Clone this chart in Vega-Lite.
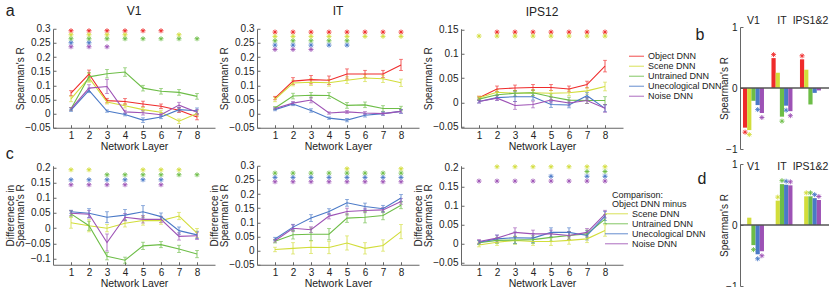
{
"$schema": "https://vega.github.io/schema/vega-lite/v6.json",
"padding": {"left": 5, "top": 2, "right": 2, "bottom": 0},
"title": {"text": "a", "anchor": "start", "frame": "bounds", "fontSize": 16, "offset": -14},
"config": {
  "font": "Liberation Sans",
  "view": {"stroke": null},
  "axis": {"grid": false, "domainColor": "#666", "tickColor": "#666", "labelColor": "#222", "titleColor": "#222", "labelFontSize": 10, "titleFontSize": 10, "titleFontWeight": "normal", "tickSize": -3, "labelPadding": 6, "domainWidth": 1, "titleLineHeight": 10},
  "axisX": {"labelOverlap": false, "labelSeparation": 0, "labelBound": false, "labelFlush": false},
  "title": {"fontWeight": "normal", "fontSize": 12, "color": "#222"},
  "legend": {"labelColor": "#222", "titleColor": "#222"}
},
"datasets": {
  "a": [
    {"region":"V1","series":"Object DNN","layer":1,"r":0.072,"err":0.009},{"region":"V1","series":"Object DNN","layer":2,"r":0.14,"err":0.014},{"region":"V1","series":"Object DNN","layer":3,"r":0.046,"err":0.008},{"region":"V1","series":"Object DNN","layer":4,"r":0.043,"err":0.01},{"region":"V1","series":"Object DNN","layer":5,"r":0.034,"err":0.01},{"region":"V1","series":"Object DNN","layer":6,"r":0.026,"err":0.008},{"region":"V1","series":"Object DNN","layer":7,"r":0.012,"err":0.008},{"region":"V1","series":"Object DNN","layer":8,"r":-0.012,"err":0.01},
    {"region":"V1","series":"Scene DNN","layer":1,"r":0.052,"err":0.01},{"region":"V1","series":"Scene DNN","layer":2,"r":0.126,"err":0.015},{"region":"V1","series":"Scene DNN","layer":3,"r":0.041,"err":0.007},{"region":"V1","series":"Scene DNN","layer":4,"r":0.028,"err":0.008},{"region":"V1","series":"Scene DNN","layer":5,"r":0.014,"err":0.008},{"region":"V1","series":"Scene DNN","layer":6,"r":0.005,"err":0.007},{"region":"V1","series":"Scene DNN","layer":7,"r":-0.027,"err":0.008},{"region":"V1","series":"Scene DNN","layer":8,"r":0.0,"err":0.01},
    {"region":"V1","series":"Untrained DNN","layer":1,"r":0.017,"err":0.005},{"region":"V1","series":"Untrained DNN","layer":2,"r":0.13,"err":0.015},{"region":"V1","series":"Untrained DNN","layer":3,"r":0.141,"err":0.015},{"region":"V1","series":"Untrained DNN","layer":4,"r":0.147,"err":0.015},{"region":"V1","series":"Untrained DNN","layer":5,"r":0.09,"err":0.01},{"region":"V1","series":"Untrained DNN","layer":6,"r":0.079,"err":0.01},{"region":"V1","series":"Untrained DNN","layer":7,"r":0.075,"err":0.01},{"region":"V1","series":"Untrained DNN","layer":8,"r":0.061,"err":0.01},
    {"region":"V1","series":"Unecological DNN","layer":1,"r":0.012,"err":0.004},{"region":"V1","series":"Unecological DNN","layer":2,"r":0.082,"err":0.008},{"region":"V1","series":"Unecological DNN","layer":3,"r":0.009,"err":0.004},{"region":"V1","series":"Unecological DNN","layer":4,"r":-0.003,"err":0.005},{"region":"V1","series":"Unecological DNN","layer":5,"r":-0.023,"err":0.008},{"region":"V1","series":"Unecological DNN","layer":6,"r":-0.012,"err":0.006},{"region":"V1","series":"Unecological DNN","layer":7,"r":0.014,"err":0.008},{"region":"V1","series":"Unecological DNN","layer":8,"r":0.01,"err":0.01},
    {"region":"V1","series":"Noise DNN","layer":1,"r":0.017,"err":0.005},{"region":"V1","series":"Noise DNN","layer":2,"r":0.09,"err":0.012},{"region":"V1","series":"Noise DNN","layer":3,"r":0.096,"err":0.025},{"region":"V1","series":"Noise DNN","layer":4,"r":0.006,"err":0.006},{"region":"V1","series":"Noise DNN","layer":5,"r":0.003,"err":0.008},{"region":"V1","series":"Noise DNN","layer":6,"r":-0.004,"err":0.006},{"region":"V1","series":"Noise DNN","layer":7,"r":0.03,"err":0.01},{"region":"V1","series":"Noise DNN","layer":8,"r":0.005,"err":0.01},
    {"region":"IT","series":"Object DNN","layer":1,"r":0.055,"err":0.006},{"region":"IT","series":"Object DNN","layer":2,"r":0.115,"err":0.012},{"region":"IT","series":"Object DNN","layer":3,"r":0.12,"err":0.015},{"region":"IT","series":"Object DNN","layer":4,"r":0.118,"err":0.015},{"region":"IT","series":"Object DNN","layer":5,"r":0.14,"err":0.018},{"region":"IT","series":"Object DNN","layer":6,"r":0.14,"err":0.013},{"region":"IT","series":"Object DNN","layer":7,"r":0.14,"err":0.013},{"region":"IT","series":"Object DNN","layer":8,"r":0.172,"err":0.02},
    {"region":"IT","series":"Scene DNN","layer":1,"r":0.05,"err":0.008},{"region":"IT","series":"Scene DNN","layer":2,"r":0.108,"err":0.01},{"region":"IT","series":"Scene DNN","layer":3,"r":0.111,"err":0.012},{"region":"IT","series":"Scene DNN","layer":4,"r":0.109,"err":0.012},{"region":"IT","series":"Scene DNN","layer":5,"r":0.118,"err":0.012},{"region":"IT","series":"Scene DNN","layer":6,"r":0.126,"err":0.013},{"region":"IT","series":"Scene DNN","layer":7,"r":0.123,"err":0.013},{"region":"IT","series":"Scene DNN","layer":8,"r":0.109,"err":0.013},
    {"region":"IT","series":"Untrained DNN","layer":1,"r":0.02,"err":0.005},{"region":"IT","series":"Untrained DNN","layer":2,"r":0.062,"err":0.01},{"region":"IT","series":"Untrained DNN","layer":3,"r":0.065,"err":0.01},{"region":"IT","series":"Untrained DNN","layer":4,"r":0.064,"err":0.01},{"region":"IT","series":"Untrained DNN","layer":5,"r":0.029,"err":0.01},{"region":"IT","series":"Untrained DNN","layer":6,"r":0.031,"err":0.01},{"region":"IT","series":"Untrained DNN","layer":7,"r":0.018,"err":0.01},{"region":"IT","series":"Untrained DNN","layer":8,"r":0.018,"err":0.008},
    {"region":"IT","series":"Unecological DNN","layer":1,"r":0.014,"err":0.004},{"region":"IT","series":"Unecological DNN","layer":2,"r":0.034,"err":0.006},{"region":"IT","series":"Unecological DNN","layer":3,"r":0.011,"err":0.006},{"region":"IT","series":"Unecological DNN","layer":4,"r":-0.016,"err":0.004},{"region":"IT","series":"Unecological DNN","layer":5,"r":-0.023,"err":0.006},{"region":"IT","series":"Unecological DNN","layer":6,"r":-0.006,"err":0.006},{"region":"IT","series":"Unecological DNN","layer":7,"r":0.0,"err":0.006},{"region":"IT","series":"Unecological DNN","layer":8,"r":0.008,"err":0.007},
    {"region":"IT","series":"Noise DNN","layer":1,"r":0.018,"err":0.004},{"region":"IT","series":"Noise DNN","layer":2,"r":0.037,"err":0.006},{"region":"IT","series":"Noise DNN","layer":3,"r":0.048,"err":0.01},{"region":"IT","series":"Noise DNN","layer":4,"r":0.002,"err":0.004},{"region":"IT","series":"Noise DNN","layer":5,"r":0.006,"err":0.005},{"region":"IT","series":"Noise DNN","layer":6,"r":0.002,"err":0.005},{"region":"IT","series":"Noise DNN","layer":7,"r":0.0,"err":0.005},{"region":"IT","series":"Noise DNN","layer":8,"r":0.008,"err":0.006},
    {"region":"IPS12","series":"Object DNN","layer":1,"r":0.01,"err":0.003},{"region":"IPS12","series":"Object DNN","layer":2,"r":0.028,"err":0.006},{"region":"IPS12","series":"Object DNN","layer":3,"r":0.03,"err":0.006},{"region":"IPS12","series":"Object DNN","layer":4,"r":0.031,"err":0.006},{"region":"IPS12","series":"Object DNN","layer":5,"r":0.031,"err":0.006},{"region":"IPS12","series":"Object DNN","layer":6,"r":0.028,"err":0.006},{"region":"IPS12","series":"Object DNN","layer":7,"r":0.037,"err":0.007},{"region":"IPS12","series":"Object DNN","layer":8,"r":0.075,"err":0.012},
    {"region":"IPS12","series":"Scene DNN","layer":1,"r":0.01,"err":0.003},{"region":"IPS12","series":"Scene DNN","layer":2,"r":0.021,"err":0.006},{"region":"IPS12","series":"Scene DNN","layer":3,"r":0.019,"err":0.006},{"region":"IPS12","series":"Scene DNN","layer":4,"r":0.02,"err":0.006},{"region":"IPS12","series":"Scene DNN","layer":5,"r":0.019,"err":0.006},{"region":"IPS12","series":"Scene DNN","layer":6,"r":0.02,"err":0.006},{"region":"IPS12","series":"Scene DNN","layer":7,"r":0.024,"err":0.007},{"region":"IPS12","series":"Scene DNN","layer":8,"r":0.033,"err":0.009},
    {"region":"IPS12","series":"Untrained DNN","layer":1,"r":0.007,"err":0.003},{"region":"IPS12","series":"Untrained DNN","layer":2,"r":0.016,"err":0.006},{"region":"IPS12","series":"Untrained DNN","layer":3,"r":0.019,"err":0.006},{"region":"IPS12","series":"Untrained DNN","layer":4,"r":0.02,"err":0.006},{"region":"IPS12","series":"Untrained DNN","layer":5,"r":0.012,"err":0.006},{"region":"IPS12","series":"Untrained DNN","layer":6,"r":0.005,"err":0.006},{"region":"IPS12","series":"Untrained DNN","layer":7,"r":0.004,"err":0.006},{"region":"IPS12","series":"Untrained DNN","layer":8,"r":0.004,"err":0.008},
    {"region":"IPS12","series":"Unecological DNN","layer":1,"r":0.002,"err":0.003},{"region":"IPS12","series":"Unecological DNN","layer":2,"r":0.01,"err":0.005},{"region":"IPS12","series":"Unecological DNN","layer":3,"r":0.012,"err":0.01},{"region":"IPS12","series":"Unecological DNN","layer":4,"r":0.012,"err":0.007},{"region":"IPS12","series":"Unecological DNN","layer":5,"r":-0.004,"err":0.006},{"region":"IPS12","series":"Unecological DNN","layer":6,"r":-0.005,"err":0.006},{"region":"IPS12","series":"Unecological DNN","layer":7,"r":0.014,"err":0.007},{"region":"IPS12","series":"Unecological DNN","layer":8,"r":-0.012,"err":0.007},
    {"region":"IPS12","series":"Noise DNN","layer":1,"r":0.002,"err":0.003},{"region":"IPS12","series":"Noise DNN","layer":2,"r":0.009,"err":0.005},{"region":"IPS12","series":"Noise DNN","layer":3,"r":-0.006,"err":0.008},{"region":"IPS12","series":"Noise DNN","layer":4,"r":-0.004,"err":0.007},{"region":"IPS12","series":"Noise DNN","layer":5,"r":0.005,"err":0.006},{"region":"IPS12","series":"Noise DNN","layer":6,"r":-0.001,"err":0.006},{"region":"IPS12","series":"Noise DNN","layer":7,"r":0.004,"err":0.006},{"region":"IPS12","series":"Noise DNN","layer":8,"r":-0.012,"err":0.008}
  ],
  "c": [
    {"region":"V1","series":"Scene DNN","layer":1,"r":0.018,"err":0.018},{"region":"V1","series":"Scene DNN","layer":2,"r":0.008,"err":0.02},{"region":"V1","series":"Scene DNN","layer":3,"r":0.0,"err":0.012},{"region":"V1","series":"Scene DNN","layer":4,"r":0.016,"err":0.012},{"region":"V1","series":"Scene DNN","layer":5,"r":0.025,"err":0.015},{"region":"V1","series":"Scene DNN","layer":6,"r":0.025,"err":0.012},{"region":"V1","series":"Scene DNN","layer":7,"r":0.04,"err":0.012},{"region":"V1","series":"Scene DNN","layer":8,"r":-0.016,"err":0.015},
    {"region":"V1","series":"Untrained DNN","layer":1,"r":0.047,"err":0.01},{"region":"V1","series":"Untrained DNN","layer":2,"r":0.008,"err":0.015},{"region":"V1","series":"Untrained DNN","layer":3,"r":-0.092,"err":0.012},{"region":"V1","series":"Untrained DNN","layer":4,"r":-0.105,"err":0.01},{"region":"V1","series":"Untrained DNN","layer":5,"r":-0.058,"err":0.012},{"region":"V1","series":"Untrained DNN","layer":6,"r":-0.054,"err":0.01},{"region":"V1","series":"Untrained DNN","layer":7,"r":-0.068,"err":0.012},{"region":"V1","series":"Untrained DNN","layer":8,"r":-0.085,"err":0.012},
    {"region":"V1","series":"Unecological DNN","layer":1,"r":0.054,"err":0.005},{"region":"V1","series":"Unecological DNN","layer":2,"r":0.049,"err":0.015},{"region":"V1","series":"Unecological DNN","layer":3,"r":0.036,"err":0.018},{"region":"V1","series":"Unecological DNN","layer":4,"r":0.043,"err":0.018},{"region":"V1","series":"Unecological DNN","layer":5,"r":0.054,"err":0.02},{"region":"V1","series":"Unecological DNN","layer":6,"r":0.038,"err":0.012},{"region":"V1","series":"Unecological DNN","layer":7,"r":-0.008,"err":0.012},{"region":"V1","series":"Unecological DNN","layer":8,"r":-0.022,"err":0.012},
    {"region":"V1","series":"Noise DNN","layer":1,"r":0.049,"err":0.008},{"region":"V1","series":"Noise DNN","layer":2,"r":0.046,"err":0.012},{"region":"V1","series":"Noise DNN","layer":3,"r":-0.047,"err":0.028},{"region":"V1","series":"Noise DNN","layer":4,"r":0.036,"err":0.012},{"region":"V1","series":"Noise DNN","layer":5,"r":0.029,"err":0.012},{"region":"V1","series":"Noise DNN","layer":6,"r":0.029,"err":0.01},{"region":"V1","series":"Noise DNN","layer":7,"r":-0.027,"err":0.012},{"region":"V1","series":"Noise DNN","layer":8,"r":-0.025,"err":0.012},
    {"region":"IT","series":"Scene DNN","layer":1,"r":0.004,"err":0.008},{"region":"IT","series":"Scene DNN","layer":2,"r":0.008,"err":0.02},{"region":"IT","series":"Scene DNN","layer":3,"r":0.012,"err":0.022},{"region":"IT","series":"Scene DNN","layer":4,"r":0.011,"err":0.022},{"region":"IT","series":"Scene DNN","layer":5,"r":0.027,"err":0.025},{"region":"IT","series":"Scene DNN","layer":6,"r":0.008,"err":0.02},{"region":"IT","series":"Scene DNN","layer":7,"r":0.018,"err":0.02},{"region":"IT","series":"Scene DNN","layer":8,"r":0.067,"err":0.025},
    {"region":"IT","series":"Untrained DNN","layer":1,"r":0.033,"err":0.006},{"region":"IT","series":"Untrained DNN","layer":2,"r":0.056,"err":0.015},{"region":"IT","series":"Untrained DNN","layer":3,"r":0.058,"err":0.022},{"region":"IT","series":"Untrained DNN","layer":4,"r":0.058,"err":0.02},{"region":"IT","series":"Untrained DNN","layer":5,"r":0.115,"err":0.015},{"region":"IT","series":"Untrained DNN","layer":6,"r":0.118,"err":0.02},{"region":"IT","series":"Untrained DNN","layer":7,"r":0.124,"err":0.015},{"region":"IT","series":"Untrained DNN","layer":8,"r":0.16,"err":0.012},
    {"region":"IT","series":"Unecological DNN","layer":1,"r":0.041,"err":0.006},{"region":"IT","series":"Unecological DNN","layer":2,"r":0.083,"err":0.01},{"region":"IT","series":"Unecological DNN","layer":3,"r":0.115,"err":0.012},{"region":"IT","series":"Unecological DNN","layer":4,"r":0.138,"err":0.01},{"region":"IT","series":"Unecological DNN","layer":5,"r":0.169,"err":0.012},{"region":"IT","series":"Unecological DNN","layer":6,"r":0.156,"err":0.012},{"region":"IT","series":"Unecological DNN","layer":7,"r":0.148,"err":0.012},{"region":"IT","series":"Unecological DNN","layer":8,"r":0.186,"err":0.012},
    {"region":"IT","series":"Noise DNN","layer":1,"r":0.035,"err":0.005},{"region":"IT","series":"Noise DNN","layer":2,"r":0.079,"err":0.012},{"region":"IT","series":"Noise DNN","layer":3,"r":0.074,"err":0.01},{"region":"IT","series":"Noise DNN","layer":4,"r":0.122,"err":0.01},{"region":"IT","series":"Noise DNN","layer":5,"r":0.138,"err":0.012},{"region":"IT","series":"Noise DNN","layer":6,"r":0.142,"err":0.008},{"region":"IT","series":"Noise DNN","layer":7,"r":0.144,"err":0.008},{"region":"IT","series":"Noise DNN","layer":8,"r":0.174,"err":0.01},
    {"region":"IPS12","series":"Scene DNN","layer":1,"r":-0.003,"err":0.005},{"region":"IPS12","series":"Scene DNN","layer":2,"r":0.004,"err":0.008},{"region":"IPS12","series":"Scene DNN","layer":3,"r":0.009,"err":0.01},{"region":"IPS12","series":"Scene DNN","layer":4,"r":0.006,"err":0.01},{"region":"IPS12","series":"Scene DNN","layer":5,"r":0.006,"err":0.01},{"region":"IPS12","series":"Scene DNN","layer":6,"r":0.009,"err":0.01},{"region":"IPS12","series":"Scene DNN","layer":7,"r":0.013,"err":0.01},{"region":"IPS12","series":"Scene DNN","layer":8,"r":0.035,"err":0.015},
    {"region":"IPS12","series":"Untrained DNN","layer":1,"r":0.003,"err":0.005},{"region":"IPS12","series":"Untrained DNN","layer":2,"r":0.009,"err":0.008},{"region":"IPS12","series":"Untrained DNN","layer":3,"r":0.01,"err":0.01},{"region":"IPS12","series":"Untrained DNN","layer":4,"r":0.011,"err":0.01},{"region":"IPS12","series":"Untrained DNN","layer":5,"r":0.017,"err":0.01},{"region":"IPS12","series":"Untrained DNN","layer":6,"r":0.022,"err":0.01},{"region":"IPS12","series":"Untrained DNN","layer":7,"r":0.026,"err":0.01},{"region":"IPS12","series":"Untrained DNN","layer":8,"r":0.065,"err":0.012},
    {"region":"IPS12","series":"Unecological DNN","layer":1,"r":0.004,"err":0.005},{"region":"IPS12","series":"Unecological DNN","layer":2,"r":0.013,"err":0.01},{"region":"IPS12","series":"Unecological DNN","layer":3,"r":0.016,"err":0.015},{"region":"IPS12","series":"Unecological DNN","layer":4,"r":0.015,"err":0.012},{"region":"IPS12","series":"Unecological DNN","layer":5,"r":0.03,"err":0.012},{"region":"IPS12","series":"Unecological DNN","layer":6,"r":0.03,"err":0.012},{"region":"IPS12","series":"Unecological DNN","layer":7,"r":0.022,"err":0.012},{"region":"IPS12","series":"Unecological DNN","layer":8,"r":0.073,"err":0.012},
    {"region":"IPS12","series":"Noise DNN","layer":1,"r":0.006,"err":0.005},{"region":"IPS12","series":"Noise DNN","layer":2,"r":0.015,"err":0.008},{"region":"IPS12","series":"Noise DNN","layer":3,"r":0.03,"err":0.012},{"region":"IPS12","series":"Noise DNN","layer":4,"r":0.026,"err":0.01},{"region":"IPS12","series":"Noise DNN","layer":5,"r":0.026,"err":0.01},{"region":"IPS12","series":"Noise DNN","layer":6,"r":0.022,"err":0.01},{"region":"IPS12","series":"Noise DNN","layer":7,"r":0.03,"err":0.01},{"region":"IPS12","series":"Noise DNN","layer":8,"r":0.078,"err":0.01}
  ],
  "aSig": [
    {"region":"V1","series":"Object DNN","layer":1},{"region":"V1","series":"Object DNN","layer":2},{"region":"V1","series":"Object DNN","layer":3},{"region":"V1","series":"Object DNN","layer":4},{"region":"V1","series":"Object DNN","layer":5},{"region":"V1","series":"Object DNN","layer":6},
    {"region":"V1","series":"Scene DNN","layer":1},{"region":"V1","series":"Scene DNN","layer":2},{"region":"V1","series":"Scene DNN","layer":3},{"region":"V1","series":"Scene DNN","layer":4},{"region":"V1","series":"Scene DNN","layer":7},
    {"region":"V1","series":"Untrained DNN","layer":1},{"region":"V1","series":"Untrained DNN","layer":2},{"region":"V1","series":"Untrained DNN","layer":3},{"region":"V1","series":"Untrained DNN","layer":4},{"region":"V1","series":"Untrained DNN","layer":5},{"region":"V1","series":"Untrained DNN","layer":6},{"region":"V1","series":"Untrained DNN","layer":7},{"region":"V1","series":"Untrained DNN","layer":8},
    {"region":"V1","series":"Unecological DNN","layer":1},{"region":"V1","series":"Unecological DNN","layer":2},
    {"region":"V1","series":"Noise DNN","layer":1},{"region":"V1","series":"Noise DNN","layer":2},{"region":"V1","series":"Noise DNN","layer":3},
    {"region":"IT","series":"Object DNN","layer":1},{"region":"IT","series":"Object DNN","layer":2},{"region":"IT","series":"Object DNN","layer":3},{"region":"IT","series":"Object DNN","layer":4},{"region":"IT","series":"Object DNN","layer":5},{"region":"IT","series":"Object DNN","layer":6},{"region":"IT","series":"Object DNN","layer":7},{"region":"IT","series":"Object DNN","layer":8},
    {"region":"IT","series":"Scene DNN","layer":1},{"region":"IT","series":"Scene DNN","layer":2},{"region":"IT","series":"Scene DNN","layer":3},{"region":"IT","series":"Scene DNN","layer":4},{"region":"IT","series":"Scene DNN","layer":5},{"region":"IT","series":"Scene DNN","layer":6},{"region":"IT","series":"Scene DNN","layer":7},{"region":"IT","series":"Scene DNN","layer":8},
    {"region":"IT","series":"Untrained DNN","layer":1},{"region":"IT","series":"Untrained DNN","layer":2},{"region":"IT","series":"Untrained DNN","layer":3},{"region":"IT","series":"Untrained DNN","layer":4},{"region":"IT","series":"Untrained DNN","layer":5},
    {"region":"IT","series":"Unecological DNN","layer":1},{"region":"IT","series":"Unecological DNN","layer":2},{"region":"IT","series":"Unecological DNN","layer":3},{"region":"IT","series":"Unecological DNN","layer":4},{"region":"IT","series":"Unecological DNN","layer":5},
    {"region":"IT","series":"Noise DNN","layer":1},{"region":"IT","series":"Noise DNN","layer":2},{"region":"IT","series":"Noise DNN","layer":3},
    {"region":"IPS12","series":"Object DNN","layer":2},{"region":"IPS12","series":"Object DNN","layer":3},{"region":"IPS12","series":"Object DNN","layer":4},{"region":"IPS12","series":"Object DNN","layer":5},{"region":"IPS12","series":"Object DNN","layer":6},{"region":"IPS12","series":"Object DNN","layer":7},{"region":"IPS12","series":"Object DNN","layer":8},
    {"region":"IPS12","series":"Scene DNN","layer":1},{"region":"IPS12","series":"Scene DNN","layer":2},{"region":"IPS12","series":"Scene DNN","layer":3},{"region":"IPS12","series":"Scene DNN","layer":4},{"region":"IPS12","series":"Scene DNN","layer":5},{"region":"IPS12","series":"Scene DNN","layer":6},{"region":"IPS12","series":"Scene DNN","layer":7},{"region":"IPS12","series":"Scene DNN","layer":8}
  ],
  "cSig": [
    {"region":"V1","series":"Scene DNN","layer":1},{"region":"V1","series":"Scene DNN","layer":2},{"region":"V1","series":"Scene DNN","layer":5},{"region":"V1","series":"Scene DNN","layer":6},{"region":"V1","series":"Scene DNN","layer":7},
    {"region":"V1","series":"Untrained DNN","layer":3},{"region":"V1","series":"Untrained DNN","layer":4},{"region":"V1","series":"Untrained DNN","layer":5},{"region":"V1","series":"Untrained DNN","layer":6},{"region":"V1","series":"Untrained DNN","layer":7},{"region":"V1","series":"Untrained DNN","layer":8},
    {"region":"V1","series":"Unecological DNN","layer":1},{"region":"V1","series":"Unecological DNN","layer":2},{"region":"V1","series":"Unecological DNN","layer":3},{"region":"V1","series":"Unecological DNN","layer":4},{"region":"V1","series":"Unecological DNN","layer":5},{"region":"V1","series":"Unecological DNN","layer":6},
    {"region":"V1","series":"Noise DNN","layer":1},{"region":"V1","series":"Noise DNN","layer":2},{"region":"V1","series":"Noise DNN","layer":3},{"region":"V1","series":"Noise DNN","layer":4},{"region":"V1","series":"Noise DNN","layer":6},
    {"region":"IT","series":"Scene DNN","layer":5},{"region":"IT","series":"Scene DNN","layer":8},
    {"region":"IT","series":"Untrained DNN","layer":1},{"region":"IT","series":"Untrained DNN","layer":2},{"region":"IT","series":"Untrained DNN","layer":3},{"region":"IT","series":"Untrained DNN","layer":4},{"region":"IT","series":"Untrained DNN","layer":5},{"region":"IT","series":"Untrained DNN","layer":6},{"region":"IT","series":"Untrained DNN","layer":7},{"region":"IT","series":"Untrained DNN","layer":8},
    {"region":"IT","series":"Unecological DNN","layer":1},{"region":"IT","series":"Unecological DNN","layer":2},{"region":"IT","series":"Unecological DNN","layer":3},{"region":"IT","series":"Unecological DNN","layer":4},{"region":"IT","series":"Unecological DNN","layer":5},{"region":"IT","series":"Unecological DNN","layer":6},{"region":"IT","series":"Unecological DNN","layer":7},{"region":"IT","series":"Unecological DNN","layer":8},
    {"region":"IT","series":"Noise DNN","layer":1},{"region":"IT","series":"Noise DNN","layer":2},{"region":"IT","series":"Noise DNN","layer":3},{"region":"IT","series":"Noise DNN","layer":4},{"region":"IT","series":"Noise DNN","layer":5},{"region":"IT","series":"Noise DNN","layer":6},{"region":"IT","series":"Noise DNN","layer":7},{"region":"IT","series":"Noise DNN","layer":8},
    {"region":"IPS12","series":"Scene DNN","layer":2},{"region":"IPS12","series":"Scene DNN","layer":3},{"region":"IPS12","series":"Scene DNN","layer":4},{"region":"IPS12","series":"Scene DNN","layer":5},{"region":"IPS12","series":"Scene DNN","layer":6},{"region":"IPS12","series":"Scene DNN","layer":7},{"region":"IPS12","series":"Scene DNN","layer":8},
    {"region":"IPS12","series":"Untrained DNN","layer":7},{"region":"IPS12","series":"Untrained DNN","layer":8},
    {"region":"IPS12","series":"Unecological DNN","layer":5},{"region":"IPS12","series":"Unecological DNN","layer":7},{"region":"IPS12","series":"Unecological DNN","layer":8},
    {"region":"IPS12","series":"Noise DNN","layer":1},{"region":"IPS12","series":"Noise DNN","layer":2},{"region":"IPS12","series":"Noise DNN","layer":3},{"region":"IPS12","series":"Noise DNN","layer":4},{"region":"IPS12","series":"Noise DNN","layer":5},{"region":"IPS12","series":"Noise DNN","layer":6},{"region":"IPS12","series":"Noise DNN","layer":7},{"region":"IPS12","series":"Noise DNN","layer":8}
  ],
  "b": [
    {"region":"V1","series":"Object DNN","r":-0.65,"sig":1},{"region":"V1","series":"Scene DNN","r":-0.69,"sig":1},{"region":"V1","series":"Untrained DNN","r":-0.21,"sig":0},{"region":"V1","series":"Unecological DNN","r":-0.28,"sig":1},{"region":"V1","series":"Noise DNN","r":-0.41,"sig":1},
    {"region":"IT","series":"Object DNN","r":0.49,"sig":1},{"region":"IT","series":"Scene DNN","r":0.25,"sig":0},{"region":"IT","series":"Untrained DNN","r":-0.47,"sig":1},{"region":"IT","series":"Unecological DNN","r":-0.29,"sig":1},{"region":"IT","series":"Noise DNN","r":-0.38,"sig":1},
    {"region":"IPS1&2","series":"Object DNN","r":0.47,"sig":1},{"region":"IPS1&2","series":"Scene DNN","r":0.3,"sig":0},{"region":"IPS1&2","series":"Untrained DNN","r":-0.27,"sig":0},{"region":"IPS1&2","series":"Unecological DNN","r":-0.08,"sig":0},{"region":"IPS1&2","series":"Noise DNN","r":-0.04,"sig":0}
  ],
  "d": [
    {"region":"V1","series":"Scene DNN","r":0.12,"sig":0},{"region":"V1","series":"Untrained DNN","r":-0.33,"sig":1},{"region":"V1","series":"Unecological DNN","r":-0.48,"sig":1},{"region":"V1","series":"Noise DNN","r":-0.43,"sig":1},
    {"region":"IT","series":"Scene DNN","r":0.4,"sig":1},{"region":"IT","series":"Untrained DNN","r":0.67,"sig":1},{"region":"IT","series":"Unecological DNN","r":0.66,"sig":1},{"region":"IT","series":"Noise DNN","r":0.65,"sig":1},
    {"region":"IPS1&2","series":"Scene DNN","r":0.47,"sig":1},{"region":"IPS1&2","series":"Untrained DNN","r":0.47,"sig":1},{"region":"IPS1&2","series":"Unecological DNN","r":0.44,"sig":1},{"region":"IPS1&2","series":"Noise DNN","r":0.41,"sig":1}
  ]
},
"hconcat": [
  {
    "concat": [
      {
        "width": 162, "height": 99,
        "title": {"text": "V1", "offset": 6},
        "layer": [
          {"data": {"name": "a"}, "transform": [{"filter": "datum.region === 'V1'"}],
           "mark": {"type": "errorbar", "ticks": true, "size": 4, "thickness": 0.8},
           "encoding": {"x": {"field": "layer", "type": "quantitative", "scale": {"domain": [0, 9], "nice": false}, "axis": {"values": [1,2,3,4,5,6,7,8], "labelOverlap": false, "title": "Network Layer", "titleFontSize": 10.5, "titlePadding": 1}},
             "y": {"field": "r", "type": "quantitative", "scale": {"domain": [-0.05, 0.3], "nice": false}, "axis": {"values": [-0.05,0,0.05,0.1,0.15,0.2,0.25,0.3], "format": "~g", "title": "Spearman's R", "titlePadding": -1}},
             "yError": {"field": "err"},
             "color": {"field": "series", "type": "nominal", "scale": {"domain": ["Object DNN","Scene DNN","Untrained DNN","Unecological DNN","Noise DNN"], "range": ["#ef2b2b","#d2dd3a","#6dbd47","#4a79c7","#9d52b5"]}, "legend": null}}},
          {"data": {"name": "a"}, "transform": [{"filter": "datum.region === 'V1'"}],
           "mark": {"type": "line", "strokeWidth": 1.1},
           "encoding": {"x": {"field": "layer", "type": "quantitative", "scale": {"domain": [0, 9], "nice": false}, "axis": {"values": [1,2,3,4,5,6,7,8], "labelOverlap": false, "title": "Network Layer", "titleFontSize": 10.5, "titlePadding": 1}},
             "y": {"field": "r", "type": "quantitative", "scale": {"domain": [-0.05, 0.3], "nice": false}, "axis": null},
             "color": {"field": "series", "type": "nominal", "scale": {"domain": ["Object DNN","Scene DNN","Untrained DNN","Unecological DNN","Noise DNN"], "range": ["#ef2b2b","#d2dd3a","#6dbd47","#4a79c7","#9d52b5"]}, "legend": null}}},
          {"data": {"name": "aSig"}, "transform": [{"filter": "datum.region === 'V1'"}],
           "mark": {"type": "point", "shape": "M-1,0L1,0M0,-1L0,1M-0.7,-0.7L0.7,0.7M-0.7,0.7L0.7,-0.7", "size": 25, "filled": false, "strokeWidth": 0.9, "opacity": 1},
           "encoding": {"x": {"field": "layer", "type": "quantitative", "scale": {"domain": [0, 9], "nice": false}, "axis": {"values": [1,2,3,4,5,6,7,8], "labelOverlap": false, "title": "Network Layer", "titleFontSize": 10.5, "titlePadding": 1}},
             "y": {"field": "series", "type": "nominal", "scale": {"type": "point", "domain": ["Object DNN","Scene DNN","Untrained DNN","Unecological DNN","Noise DNN"], "range": [2, 18], "padding": 0}, "axis": null},
             "color": {"field": "series", "type": "nominal", "scale": {"domain": ["Object DNN","Scene DNN","Untrained DNN","Unecological DNN","Noise DNN"], "range": ["#ef2b2b","#d2dd3a","#6dbd47","#4a79c7","#9d52b5"]}, "legend": null}}}
        ],
        "resolve": {"scale": {"y": "independent"}}
      },
      {
        "width": 162, "height": 99,
        "title": {"text": "IT", "offset": 6},
        "layer": [
          {"data": {"name": "a"}, "transform": [{"filter": "datum.region === 'IT'"}],
           "mark": {"type": "errorbar", "ticks": true, "size": 4, "thickness": 0.8},
           "encoding": {"x": {"field": "layer", "type": "quantitative", "scale": {"domain": [0, 9], "nice": false}, "axis": {"values": [1,2,3,4,5,6,7,8], "labelOverlap": false, "title": "Network Layer", "titleFontSize": 10.5, "titlePadding": 1}},
             "y": {"field": "r", "type": "quantitative", "scale": {"domain": [-0.05, 0.3], "nice": false}, "axis": {"values": [-0.05,0,0.05,0.1,0.15,0.2,0.25,0.3], "format": "~g", "title": "Spearman's R", "titlePadding": -1}},
             "yError": {"field": "err"},
             "color": {"field": "series", "type": "nominal", "scale": {"domain": ["Object DNN","Scene DNN","Untrained DNN","Unecological DNN","Noise DNN"], "range": ["#ef2b2b","#d2dd3a","#6dbd47","#4a79c7","#9d52b5"]}, "legend": null}}},
          {"data": {"name": "a"}, "transform": [{"filter": "datum.region === 'IT'"}],
           "mark": {"type": "line", "strokeWidth": 1.1},
           "encoding": {"x": {"field": "layer", "type": "quantitative", "scale": {"domain": [0, 9], "nice": false}, "axis": {"values": [1,2,3,4,5,6,7,8], "labelOverlap": false, "title": "Network Layer", "titleFontSize": 10.5, "titlePadding": 1}},
             "y": {"field": "r", "type": "quantitative", "scale": {"domain": [-0.05, 0.3], "nice": false}, "axis": null},
             "color": {"field": "series", "type": "nominal", "scale": {"domain": ["Object DNN","Scene DNN","Untrained DNN","Unecological DNN","Noise DNN"], "range": ["#ef2b2b","#d2dd3a","#6dbd47","#4a79c7","#9d52b5"]}, "legend": null}}},
          {"data": {"name": "aSig"}, "transform": [{"filter": "datum.region === 'IT'"}],
           "mark": {"type": "point", "shape": "M-1,0L1,0M0,-1L0,1M-0.7,-0.7L0.7,0.7M-0.7,0.7L0.7,-0.7", "size": 25, "filled": false, "strokeWidth": 0.9, "opacity": 1},
           "encoding": {"x": {"field": "layer", "type": "quantitative", "scale": {"domain": [0, 9], "nice": false}, "axis": {"values": [1,2,3,4,5,6,7,8], "labelOverlap": false, "title": "Network Layer", "titleFontSize": 10.5, "titlePadding": 1}},
             "y": {"field": "series", "type": "nominal", "scale": {"type": "point", "domain": ["Object DNN","Scene DNN","Untrained DNN","Unecological DNN","Noise DNN"], "range": [3.3, 20.7], "padding": 0}, "axis": null},
             "color": {"field": "series", "type": "nominal", "scale": {"domain": ["Object DNN","Scene DNN","Untrained DNN","Unecological DNN","Noise DNN"], "range": ["#ef2b2b","#d2dd3a","#6dbd47","#4a79c7","#9d52b5"]}, "legend": null}}}
        ],
        "resolve": {"scale": {"y": "independent"}}
      },
      {
        "width": 162, "height": 99,
        "title": {"text": "IPS12", "offset": 6},
        "layer": [
          {"data": {"name": "a"}, "transform": [{"filter": "datum.region === 'IPS12'"}],
           "mark": {"type": "errorbar", "ticks": true, "size": 4, "thickness": 0.8},
           "encoding": {"x": {"field": "layer", "type": "quantitative", "scale": {"domain": [0, 9], "nice": false}, "axis": {"values": [1,2,3,4,5,6,7,8], "labelOverlap": false, "title": "Network Layer", "titleFontSize": 10.5, "titlePadding": 1}},
             "y": {"field": "r", "type": "quantitative", "scale": {"domain": [-0.052, 0.152], "nice": false}, "axis": {"values": [-0.05,0,0.05,0.1,0.15], "format": "~g", "title": "Spearman's R", "titlePadding": -1}},
             "yError": {"field": "err"},
             "color": {"field": "series", "type": "nominal", "scale": {"domain": ["Object DNN","Scene DNN","Untrained DNN","Unecological DNN","Noise DNN"], "range": ["#ef2b2b","#d2dd3a","#6dbd47","#4a79c7","#9d52b5"]}, "legend": {"orient": "none", "legendX": 171, "legendY": 23, "title": null, "symbolType": "M-3,0H3", "symbolSize": 25, "symbolStrokeWidth": 1.2, "labelFontSize": 9, "labelOffset": 7, "rowPadding": -1.6, "padding": 0}}}},
          {"data": {"name": "a"}, "transform": [{"filter": "datum.region === 'IPS12'"}],
           "mark": {"type": "line", "strokeWidth": 1.1},
           "encoding": {"x": {"field": "layer", "type": "quantitative", "scale": {"domain": [0, 9], "nice": false}, "axis": {"values": [1,2,3,4,5,6,7,8], "labelOverlap": false, "title": "Network Layer", "titleFontSize": 10.5, "titlePadding": 1}},
             "y": {"field": "r", "type": "quantitative", "scale": {"domain": [-0.052, 0.152], "nice": false}, "axis": null},
             "color": {"field": "series", "type": "nominal", "scale": {"domain": ["Object DNN","Scene DNN","Untrained DNN","Unecological DNN","Noise DNN"], "range": ["#ef2b2b","#d2dd3a","#6dbd47","#4a79c7","#9d52b5"]}, "legend": {"orient": "none", "legendX": 171, "legendY": 23, "title": null, "symbolType": "M-3,0H3", "symbolSize": 25, "symbolStrokeWidth": 1.2, "labelFontSize": 9, "labelOffset": 7, "rowPadding": -1.6, "padding": 0}}}},
          {"data": {"name": "aSig"}, "transform": [{"filter": "datum.region === 'IPS12'"}],
           "mark": {"type": "point", "shape": "M-1,0L1,0M0,-1L0,1M-0.7,-0.7L0.7,0.7M-0.7,0.7L0.7,-0.7", "size": 25, "filled": false, "strokeWidth": 0.9, "opacity": 1},
           "encoding": {"x": {"field": "layer", "type": "quantitative", "scale": {"domain": [0, 9], "nice": false}, "axis": {"values": [1,2,3,4,5,6,7,8], "labelOverlap": false, "title": "Network Layer", "titleFontSize": 10.5, "titlePadding": 1}},
             "y": {"field": "series", "type": "nominal", "scale": {"type": "point", "domain": ["Object DNN","Scene DNN","Untrained DNN","Unecological DNN","Noise DNN"], "range": [3.3, 19.3], "padding": 0}, "axis": null},
             "color": {"field": "series", "type": "nominal", "scale": {"domain": ["Object DNN","Scene DNN","Untrained DNN","Unecological DNN","Noise DNN"], "range": ["#ef2b2b","#d2dd3a","#6dbd47","#4a79c7","#9d52b5"]}, "legend": {"orient": "none", "legendX": 171, "legendY": 23, "title": null, "symbolType": "M-3,0H3", "symbolSize": 25, "symbolStrokeWidth": 1.2, "labelFontSize": 9, "labelOffset": 7, "rowPadding": -1.6, "padding": 0}}}}
        ],
        "resolve": {"scale": {"y": "independent"}}
      },
      {
        "width": 162, "height": 99,
        "title": {"text": "c", "anchor": "start", "frame": "bounds", "fontSize": 16, "offset": 0},
        "layer": [
          {"data": {"name": "c"}, "transform": [{"filter": "datum.region === 'V1'"}],
           "mark": {"type": "errorbar", "ticks": true, "size": 4, "thickness": 0.8},
           "encoding": {"x": {"field": "layer", "type": "quantitative", "scale": {"domain": [0, 9], "nice": false}, "axis": {"values": [1,2,3,4,5,6,7,8], "labelOverlap": false, "title": "Network Layer", "titleFontSize": 10.5, "titlePadding": 1}},
             "y": {"field": "r", "type": "quantitative", "scale": {"domain": [-0.12, 0.205], "nice": false}, "axis": {"values": [-0.1,-0.05,0,0.05,0.1,0.15,0.2], "format": "~g", "title": ["Differenece in", "Spearman's R"], "titlePadding": -1}},
             "yError": {"field": "err"},
             "color": {"field": "series", "type": "nominal", "scale": {"domain": ["Scene DNN","Untrained DNN","Unecological DNN","Noise DNN"], "range": ["#d2dd3a","#6dbd47","#4a79c7","#9d52b5"]}, "legend": null}}},
          {"data": {"name": "c"}, "transform": [{"filter": "datum.region === 'V1'"}],
           "mark": {"type": "line", "strokeWidth": 1.1},
           "encoding": {"x": {"field": "layer", "type": "quantitative", "scale": {"domain": [0, 9], "nice": false}, "axis": {"values": [1,2,3,4,5,6,7,8], "labelOverlap": false, "title": "Network Layer", "titleFontSize": 10.5, "titlePadding": 1}},
             "y": {"field": "r", "type": "quantitative", "scale": {"domain": [-0.12, 0.205], "nice": false}, "axis": null},
             "color": {"field": "series", "type": "nominal", "scale": {"domain": ["Scene DNN","Untrained DNN","Unecological DNN","Noise DNN"], "range": ["#d2dd3a","#6dbd47","#4a79c7","#9d52b5"]}, "legend": null}}},
          {"data": {"name": "cSig"}, "transform": [{"filter": "datum.region === 'V1'"}],
           "mark": {"type": "point", "shape": "M-1,0L1,0M0,-1L0,1M-0.7,-0.7L0.7,0.7M-0.7,0.7L0.7,-0.7", "size": 25, "filled": false, "strokeWidth": 0.9, "opacity": 1},
           "encoding": {"x": {"field": "layer", "type": "quantitative", "scale": {"domain": [0, 9], "nice": false}, "axis": {"values": [1,2,3,4,5,6,7,8], "labelOverlap": false, "title": "Network Layer", "titleFontSize": 10.5, "titlePadding": 1}},
             "y": {"field": "series", "type": "nominal", "scale": {"type": "point", "domain": ["Scene DNN","Untrained DNN","Unecological DNN","Noise DNN"], "range": [4, 19], "padding": 0}, "axis": null},
             "color": {"field": "series", "type": "nominal", "scale": {"domain": ["Scene DNN","Untrained DNN","Unecological DNN","Noise DNN"], "range": ["#d2dd3a","#6dbd47","#4a79c7","#9d52b5"]}, "legend": null}}}
        ],
        "resolve": {"scale": {"y": "independent"}}
      },
      {
        "width": 162, "height": 99,
        "layer": [
          {"data": {"name": "c"}, "transform": [{"filter": "datum.region === 'IT'"}],
           "mark": {"type": "errorbar", "ticks": true, "size": 4, "thickness": 0.8},
           "encoding": {"x": {"field": "layer", "type": "quantitative", "scale": {"domain": [0, 9], "nice": false}, "axis": {"values": [1,2,3,4,5,6,7,8], "labelOverlap": false, "title": "Network Layer", "titleFontSize": 10.5, "titlePadding": 1}},
             "y": {"field": "r", "type": "quantitative", "scale": {"domain": [-0.05, 0.3], "nice": false}, "axis": {"values": [-0.05,0,0.05,0.1,0.15,0.2,0.25,0.3], "format": "~g", "title": ["Differenece in", "Spearman's R"], "titlePadding": -1}},
             "yError": {"field": "err"},
             "color": {"field": "series", "type": "nominal", "scale": {"domain": ["Scene DNN","Untrained DNN","Unecological DNN","Noise DNN"], "range": ["#d2dd3a","#6dbd47","#4a79c7","#9d52b5"]}, "legend": null}}},
          {"data": {"name": "c"}, "transform": [{"filter": "datum.region === 'IT'"}],
           "mark": {"type": "line", "strokeWidth": 1.1},
           "encoding": {"x": {"field": "layer", "type": "quantitative", "scale": {"domain": [0, 9], "nice": false}, "axis": {"values": [1,2,3,4,5,6,7,8], "labelOverlap": false, "title": "Network Layer", "titleFontSize": 10.5, "titlePadding": 1}},
             "y": {"field": "r", "type": "quantitative", "scale": {"domain": [-0.05, 0.3], "nice": false}, "axis": null},
             "color": {"field": "series", "type": "nominal", "scale": {"domain": ["Scene DNN","Untrained DNN","Unecological DNN","Noise DNN"], "range": ["#d2dd3a","#6dbd47","#4a79c7","#9d52b5"]}, "legend": null}}},
          {"data": {"name": "cSig"}, "transform": [{"filter": "datum.region === 'IT'"}],
           "mark": {"type": "point", "shape": "M-1,0L1,0M0,-1L0,1M-0.7,-0.7L0.7,0.7M-0.7,0.7L0.7,-0.7", "size": 25, "filled": false, "strokeWidth": 0.9, "opacity": 1},
           "encoding": {"x": {"field": "layer", "type": "quantitative", "scale": {"domain": [0, 9], "nice": false}, "axis": {"values": [1,2,3,4,5,6,7,8], "labelOverlap": false, "title": "Network Layer", "titleFontSize": 10.5, "titlePadding": 1}},
             "y": {"field": "series", "type": "nominal", "scale": {"type": "point", "domain": ["Scene DNN","Untrained DNN","Unecological DNN","Noise DNN"], "range": [3, 16], "padding": 0}, "axis": null},
             "color": {"field": "series", "type": "nominal", "scale": {"domain": ["Scene DNN","Untrained DNN","Unecological DNN","Noise DNN"], "range": ["#d2dd3a","#6dbd47","#4a79c7","#9d52b5"]}, "legend": null}}}
        ],
        "resolve": {"scale": {"y": "independent"}}
      },
      {
        "width": 162, "height": 99,
        "layer": [
          {"data": {"name": "c"}, "transform": [{"filter": "datum.region === 'IPS12'"}],
           "mark": {"type": "errorbar", "ticks": true, "size": 4, "thickness": 0.8},
           "encoding": {"x": {"field": "layer", "type": "quantitative", "scale": {"domain": [0, 9], "nice": false}, "axis": {"values": [1,2,3,4,5,6,7,8], "labelOverlap": false, "title": "Network Layer", "titleFontSize": 10.5, "titlePadding": 1}},
             "y": {"field": "r", "type": "quantitative", "scale": {"domain": [-0.055, 0.205], "nice": false}, "axis": {"values": [-0.05,0,0.05,0.1,0.15,0.2], "format": "~g", "title": ["Differenece in", "Spearman's R"], "titlePadding": -1}},
             "yError": {"field": "err"},
             "color": {"field": "series", "type": "nominal", "scale": {"domain": ["Scene DNN","Untrained DNN","Unecological DNN","Noise DNN"], "range": ["#d2dd3a","#6dbd47","#4a79c7","#9d52b5"]}, "legend": {"orient": "none", "legendX": 151, "legendY": 25.5, "title": ["Comparison:", "Object DNN minus"], "titleFontSize": 9, "titleFontWeight": "normal", "titleLineHeight": 9, "titlePadding": 0, "symbolType": "M-4.6,0H4.6", "symbolSize": 25, "symbolStrokeWidth": 1.2, "labelFontSize": 9, "labelOffset": 11, "rowPadding": -1, "padding": 0}}}},
          {"data": {"name": "c"}, "transform": [{"filter": "datum.region === 'IPS12'"}],
           "mark": {"type": "line", "strokeWidth": 1.1},
           "encoding": {"x": {"field": "layer", "type": "quantitative", "scale": {"domain": [0, 9], "nice": false}, "axis": {"values": [1,2,3,4,5,6,7,8], "labelOverlap": false, "title": "Network Layer", "titleFontSize": 10.5, "titlePadding": 1}},
             "y": {"field": "r", "type": "quantitative", "scale": {"domain": [-0.055, 0.205], "nice": false}, "axis": null},
             "color": {"field": "series", "type": "nominal", "scale": {"domain": ["Scene DNN","Untrained DNN","Unecological DNN","Noise DNN"], "range": ["#d2dd3a","#6dbd47","#4a79c7","#9d52b5"]}, "legend": {"orient": "none", "legendX": 151, "legendY": 25.5, "title": ["Comparison:", "Object DNN minus"], "titleFontSize": 9, "titleFontWeight": "normal", "titleLineHeight": 9, "titlePadding": 0, "symbolType": "M-4.6,0H4.6", "symbolSize": 25, "symbolStrokeWidth": 1.2, "labelFontSize": 9, "labelOffset": 11, "rowPadding": -1, "padding": 0}}}},
          {"data": {"name": "cSig"}, "transform": [{"filter": "datum.region === 'IPS12'"}],
           "mark": {"type": "point", "shape": "M-1,0L1,0M0,-1L0,1M-0.7,-0.7L0.7,0.7M-0.7,0.7L0.7,-0.7", "size": 25, "filled": false, "strokeWidth": 0.9, "opacity": 1},
           "encoding": {"x": {"field": "layer", "type": "quantitative", "scale": {"domain": [0, 9], "nice": false}, "axis": {"values": [1,2,3,4,5,6,7,8], "labelOverlap": false, "title": "Network Layer", "titleFontSize": 10.5, "titlePadding": 1}},
             "y": {"field": "series", "type": "nominal", "scale": {"type": "point", "domain": ["Scene DNN","Untrained DNN","Unecological DNN","Noise DNN"], "range": [1, 15.3], "padding": 0}, "axis": null},
             "color": {"field": "series", "type": "nominal", "scale": {"domain": ["Scene DNN","Untrained DNN","Unecological DNN","Noise DNN"], "range": ["#d2dd3a","#6dbd47","#4a79c7","#9d52b5"]}, "legend": {"orient": "none", "legendX": 151, "legendY": 25.5, "title": ["Comparison:", "Object DNN minus"], "titleFontSize": 9, "titleFontWeight": "normal", "titleLineHeight": 9, "titlePadding": 0, "symbolType": "M-4.6,0H4.6", "symbolSize": 25, "symbolStrokeWidth": 1.2, "labelFontSize": 9, "labelOffset": 11, "rowPadding": -1, "padding": 0}}}}
        ],
        "resolve": {"scale": {"y": "independent"}}
      }
    ],
    "columns": 3,
    "spacing": {"column": 42, "row": 38},
    "bounds": "flush",
    "resolve": {"scale": {"color": "independent"}, "legend": {"color": "independent"}}
  },
  {
    "vconcat": [
      {
        "width": 89, "height": 122,
        "title": {"text": "b", "anchor": "start", "frame": "bounds", "fontSize": 16, "offset": -28, "dx": -24},
        "layer": [
          {"data": {"name": "b"},
           "mark": {"type": "bar"},
           "encoding": {
             "x": {"field": "region", "type": "nominal", "scale": {"domain": ["V1","IT","IPS1&2"], "paddingInner": 0.263, "paddingOuter": 0.193, "align": 0.27}, "axis": {"orient": "top", "title": null, "domain": false, "ticks": false, "labelAngle": 0, "labelFontSize": 10.5, "labelPadding": 2}},
             "xOffset": {"field": "series", "type": "nominal", "scale": {"domain": ["Object DNN","Scene DNN","Untrained DNN","Unecological DNN","Noise DNN"], "paddingInner": 0, "paddingOuter": 0}},
             "y": {"field": "r", "type": "quantitative", "scale": {"domain": [-1, 1], "nice": false}, "axis": {"values": [-1,-0.5,0,0.5,1], "format": "~g", "title": "Spearman's R", "titlePadding": -4}},
             "color": {"field": "series", "type": "nominal", "scale": {"domain": ["Object DNN","Scene DNN","Untrained DNN","Unecological DNN","Noise DNN"], "range": ["#ef2b2b","#d2dd3a","#6dbd47","#4a79c7","#9d52b5"]}, "legend": null}}},
          {"data": {"values": [{"zero": 0}]},
           "mark": {"type": "rule", "color": "#555", "strokeWidth": 1.3},
           "encoding": {"y": {"field": "zero", "type": "quantitative"}}},
          {"data": {"name": "b"}, "transform": [{"filter": "datum.sig == 1 && datum.r < 0"}],
           "mark": {"type": "point", "shape": "M-1,1.8L1,1.8M0,0.8L0,2.8M-0.7,1.1L0.7,2.5M-0.7,2.5L0.7,1.1", "size": 25, "filled": false, "strokeWidth": 0.9, "opacity": 1},
           "encoding": {"x": {"field": "region", "type": "nominal"}, "xOffset": {"field": "series", "type": "nominal"}, "y": {"field": "r", "type": "quantitative"},
             "color": {"field": "series", "type": "nominal", "scale": {"domain": ["Object DNN","Scene DNN","Untrained DNN","Unecological DNN","Noise DNN"], "range": ["#ef2b2b","#d2dd3a","#6dbd47","#4a79c7","#9d52b5"]}, "legend": null}}},
          {"data": {"name": "b"}, "transform": [{"filter": "datum.sig == 1 && datum.r > 0"}],
           "mark": {"type": "point", "shape": "M-1,-1.4L1,-1.4M0,-2.4L0,-0.4M-0.7,-2.1L0.7,-0.7M-0.7,-0.7L0.7,-2.1", "size": 25, "filled": false, "strokeWidth": 0.9, "opacity": 1},
           "encoding": {"x": {"field": "region", "type": "nominal"}, "xOffset": {"field": "series", "type": "nominal"}, "y": {"field": "r", "type": "quantitative"},
             "color": {"field": "series", "type": "nominal", "scale": {"domain": ["Object DNN","Scene DNN","Untrained DNN","Unecological DNN","Noise DNN"], "range": ["#ef2b2b","#d2dd3a","#6dbd47","#4a79c7","#9d52b5"]}, "legend": null}}}
        ]
      },
      {
        "width": 89, "height": 122,
        "title": {"text": "d", "anchor": "start", "frame": "bounds", "fontSize": 16, "offset": -28, "dx": -22},
        "layer": [
          {"data": {"name": "d"},
           "mark": {"type": "bar"},
           "encoding": {
             "x": {"field": "region", "type": "nominal", "scale": {"domain": ["V1","IT","IPS1&2"], "paddingInner": 0.263, "paddingOuter": 0.193, "align": 0.27}, "axis": {"orient": "top", "title": null, "domain": false, "ticks": false, "labelAngle": 0, "labelFontSize": 10.5, "labelPadding": -7}},
             "xOffset": {"field": "series", "type": "nominal", "scale": {"domain": ["Scene DNN","Untrained DNN","Unecological DNN","Noise DNN"], "paddingInner": 0, "paddingOuter": 0.5, "align": 0}},
             "y": {"field": "r", "type": "quantitative", "scale": {"domain": [-1, 1], "nice": false}, "axis": {"values": [-1,-0.5,0,0.5,1], "format": "~g", "title": "Spearman's R", "titlePadding": -4}},
             "color": {"field": "series", "type": "nominal", "scale": {"domain": ["Scene DNN","Untrained DNN","Unecological DNN","Noise DNN"], "range": ["#d2dd3a","#6dbd47","#4a79c7","#9d52b5"]}, "legend": null}}},
          {"data": {"values": [{"zero": 0}]},
           "mark": {"type": "rule", "color": "#555", "strokeWidth": 1.3},
           "encoding": {"y": {"field": "zero", "type": "quantitative"}}},
          {"data": {"name": "d"}, "transform": [{"filter": "datum.sig == 1 && datum.r < 0"}],
           "mark": {"type": "point", "shape": "M-1,1.8L1,1.8M0,0.8L0,2.8M-0.7,1.1L0.7,2.5M-0.7,2.5L0.7,1.1", "size": 25, "filled": false, "strokeWidth": 0.9, "opacity": 1},
           "encoding": {"x": {"field": "region", "type": "nominal"}, "xOffset": {"field": "series", "type": "nominal"}, "y": {"field": "r", "type": "quantitative"},
             "color": {"field": "series", "type": "nominal", "scale": {"domain": ["Scene DNN","Untrained DNN","Unecological DNN","Noise DNN"], "range": ["#d2dd3a","#6dbd47","#4a79c7","#9d52b5"]}, "legend": null}}},
          {"data": {"name": "d"}, "transform": [{"filter": "datum.sig == 1 && datum.r > 0"}],
           "mark": {"type": "point", "shape": "M-1,-1.4L1,-1.4M0,-2.4L0,-0.4M-0.7,-2.1L0.7,-0.7M-0.7,-0.7L0.7,-2.1", "size": 25, "filled": false, "strokeWidth": 0.9, "opacity": 1},
           "encoding": {"x": {"field": "region", "type": "nominal"}, "xOffset": {"field": "series", "type": "nominal"}, "y": {"field": "r", "type": "quantitative"},
             "color": {"field": "series", "type": "nominal", "scale": {"domain": ["Scene DNN","Untrained DNN","Unecological DNN","Noise DNN"], "range": ["#d2dd3a","#6dbd47","#4a79c7","#9d52b5"]}, "legend": null}}}
        ]
      }
    ],
    "spacing": 15,
    "bounds": "flush",
    "resolve": {"scale": {"color": "independent"}, "legend": {"color": "independent"}}
  }
],
"spacing": -27,
"bounds": "full",
"center": true,
"resolve": {"scale": {"color": "independent"}, "legend": {"color": "independent"}}
}
